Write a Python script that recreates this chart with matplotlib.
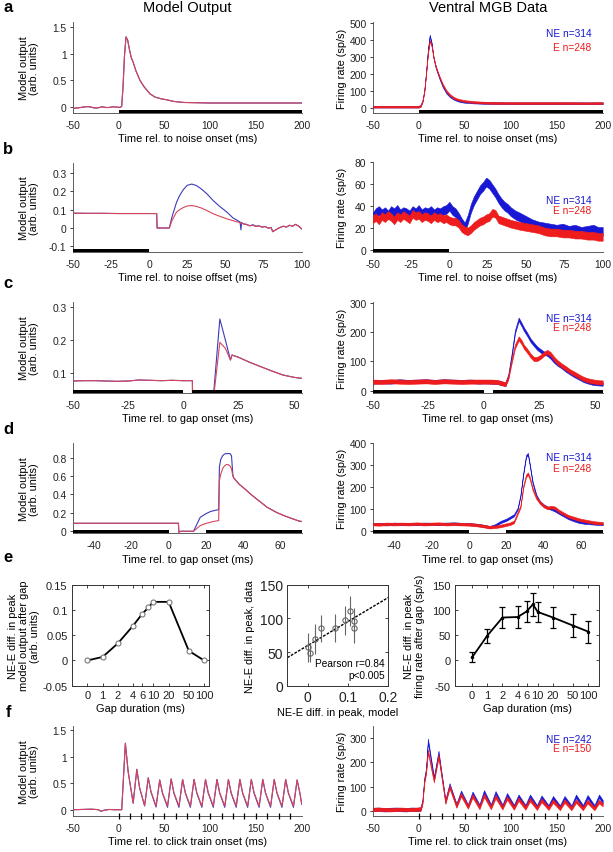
import numpy as np
import matplotlib
matplotlib.use("Agg")
import matplotlib.pyplot as plt
from matplotlib.transforms import blended_transform_factory
from matplotlib.patches import Rectangle
from matplotlib.ticker import NullLocator

plt.rcParams['font.family'] = ['Liberation Sans', 'DejaVu Sans']
plt.rcParams['axes.unicode_minus'] = False

# ------------------------------------------------------------------ data
# (a) noise onset – model
A_MT = [-50,-47,-44,-40,-36,-33,-30,-27,-24,-21,-18,-15,-12,-9,-6,-3,0,2,3.5,5,
        6.5,8.2,10,12,14,16,19,23.5,28,34.4,40,46,52.6,60,71,85,100,125,150,175,200]
A_M_NE = [-0.02,-0.015,-0.01,0.0,0.01,0.012,0.005,-0.01,-0.012,-0.005,0.01,0.0,-0.005,0.0,0.01,0.005,0.0,0.0,0.02,0.4,
          0.95,1.31,1.25,1.07,0.92,0.84,0.68,0.5,0.38,0.25,0.19,0.16,0.14,0.11,0.09,0.085,0.08,0.08,0.08,0.08,0.08]
A_M_E = [-0.02,-0.015,-0.01,0.0,0.01,0.012,0.005,-0.01,-0.012,-0.005,0.01,0.0,-0.005,0.0,0.01,0.005,0.0,0.0,0.02,0.4,
         0.95,1.31,1.25,1.07,0.92,0.84,0.68,0.5,0.38,0.25,0.19,0.16,0.14,0.11,0.09,0.085,0.08,0.08,0.08,0.08,0.08]
# (a) data
A_DT = [-50,-40,-30,-20,-10,0,2,4,6,8,10,12,14,16,18,20,23,26,30,34,38,42,46,50,60,70,80,100,120,140,160,180,200]
A_D_NE = [10,10,10,10,10,10,15,40,100,210,340,425,380,300,250,215,170,130,92,70,56,47,41,38,34,32,31,30,30,30,30,30,30]
A_D_E = [10,10,10,10,10,10,15,40,95,200,320,395,365,300,255,220,178,140,102,78,62,53,47,43,37,34,32,31,31,31,31,30,31]
A_D_HW = [5, 5]

# (b) noise offset – model
B_MT = [-50,-40,-30,-20,-10,0,5,5.3,13.3,15,18,20,22.5,25,28,31,34,38,42,46,
        51,55,59.6,60.2,60.6,62,64,66,68,70,72,74,76,78,80,81,83,85,88,90,92,94,96,98,100]
B_M_E = [0.081,0.080,0.080,0.079,0.079,0.079,0.079,0.0,0.0,0.04,0.087,0.10,0.112,0.12,0.123,0.118,0.11,0.095,0.078,0.065,
         0.05,0.04,0.029,0.027,0.026,0.022,0.018,0.012,0.015,0.008,0.012,0.005,0.008,0.0,0.002,-0.02,-0.01,0.0,0.01,0.005,
         0.015,0.01,0.02,0.01,-0.005]
B_M_NE = [0.081,0.080,0.080,0.079,0.079,0.079,0.079,0.0,0.0,0.06,0.14,0.177,0.21,0.233,0.24,0.232,0.215,0.186,0.15,0.12,
          0.087,0.055,0.033,-0.01,0.03,0.022,0.02,0.012,0.018,0.01,0.012,0.005,0.008,0.0,0.002,-0.02,-0.01,0.0,0.01,0.005,
          0.015,0.01,0.02,0.01,-0.005]
# (b) data
B_DT = [-50,-48,-46,-44,-42,-40,-38,-36,-34,-32,-30,-28,-26,-24,-22,-20,-18,-16,-14,-12,-10,-8,-6,-4,-2,0,
        2,4,6,8,10,12,14,16,18,20,22,24,26,28,30,32,34,36,38,40,
        43,46,50,54,58,62,66,70,74,78,82,86,90,94,97,100]
B_D_NE = [30,34,36,33,35,32,36,34,37,33,35,34,32,36,34,37,33,35,34,36,33,35,34,36,37,40,
          36,34,30,25,21,28,38,45,50,55,58,62,60,56,52,47,43,40,38,35,
          32,30,27,24,22,21,20,19,20,18,19,17,18,19,17,17]
B_D_E = [28,30,27,31,29,32,30,27,31,29,32,30,28,33,31,32,29,31,30,28,31,29,30,28,29,27,
         26,26,24,20,18,17,19,22,24,26,27,29,30,34,33,28,27,26,25,24,
         23,22,21,20,19,17,16,16,15,15,14,14,13,13,12,12]
B_D_HW = [4, 3.5]

# (c) gap onset, 4 ms gap – model
C_MT = [-50,-45,-40,-35,-30,-25,-20,-15,-10,-5,0,2,4.1,4.2,13.2,16.5,19,21.3,22,25,30,35,40,45,50,53.5]
C_M_E = [0.077,0.078,0.078,0.077,0.076,0.077,0.08,0.079,0.078,0.079,0.078,0.078,0.078,0.0,0.0,0.193,0.175,0.14,0.155,0.148,
         0.133,0.12,0.107,0.095,0.088,0.085]
C_M_NE = [0.077,0.078,0.078,0.077,0.076,0.077,0.08,0.079,0.078,0.079,0.078,0.078,0.078,0.0,0.0,0.263,0.2,0.14,0.155,0.148,
          0.133,0.12,0.107,0.095,0.088,0.085]
# (c) data
C_DT = [-50,-46,-42,-38,-34,-30,-26,-22,-18,-14,-10,-6,-2,0,3,6,9.7,11,12.5,14,
        15.7,17,18,19.5,21,22.5,24,25.5,27,28.5,30,31.5,33,35,37,39,41,43,45,47,49.5,51.5,53.5]
C_D_NE = [30,31,30,33,31,32,33,31,33,32,31,32,30,31,30,29,22,50,120,200,
          243,225,210,192,172,158,145,136,128,125,115,102,92,82,70,60,51,43,35,30,25,24,23]
C_D_E = [31,30,32,31,30,31,32,30,32,31,30,31,31,31,31,30,22,45,100,150,
         178,165,150,136,120,108,108,115,125,132,125,110,98,86,76,65,57,48,40,35,31,29,28]
C_D_HW = [6, 7]

# (d) gap onset, 20 ms gap – model
D_MT = [-51.5,-40,-30,-20,-10,0,5.3,5.5,6.5,13.4,17,20,22.4,25,26.9,27.3,28,29,30,31,
        32,33,33.8,34.5,35,38,41,44,48,53,58,62,66,70,71.5]
D_M_E = [0.087,0.087,0.087,0.087,0.087,0.087,0.087,-0.01,0.0,0.0,0.062,0.085,0.098,0.11,0.116,0.55,0.62,0.68,0.71,0.725,
         0.725,0.71,0.68,0.6,0.58,0.51,0.46,0.405,0.34,0.26,0.205,0.17,0.14,0.112,0.106]
D_M_NE = [0.087,0.087,0.087,0.087,0.087,0.087,0.087,-0.01,0.0,0.0,0.152,0.19,0.214,0.228,0.235,0.7,0.78,0.82,0.84,0.845,
          0.845,0.845,0.82,0.62,0.58,0.51,0.46,0.405,0.34,0.26,0.205,0.17,0.14,0.112,0.106]
# (d) data
D_DT = [-51.5,-48,-44,-40,-36,-32,-28,-24,-20,-16,-12,-8,-4,0,4,8,11,14,17,20,
        22,24,26,27.5,29,30.5,31.5,32.5,34,36,38,40,42,44,46,48,50.5,53,56,59,62,65,68,71.5]
D_D_NE = [30,31,29,32,30,31,30,32,31,30,32,33,31,30,27,22,16,25,40,50,
          60,70,100,160,260,340,350,300,220,160,130,115,105,100,92,82,70,58,48,40,36,34,32,30]
D_D_E = [30,29,31,30,31,30,32,30,31,32,30,31,30,29,26,21,16,18,22,28,
         32,40,80,110,200,250,260,240,190,150,128,112,104,108,104,90,78,66,58,50,45,40,36,34]
D_D_HW = [5, 6]

# (e) gap-duration summary
GAPS = [0, 1, 2, 4, 6, 8, 10, 20, 50, 100]
E_MODEL_DIFF = [0.0, 0.007, 0.034, 0.069, 0.092, 0.105, 0.116, 0.116, 0.019, 0.0]
E_DATA_DIFF = [6, 49, 85, 86, 97, 111, 96, 85, 69, 57]
E_DATA_ERR = [10, 14, 20, 21, 21, 22, 20, 21, 22, 22]
GAP_TICKS = [0, 1, 2, 4, 6, 10, 20, 50, 100]
GAP_TICKLABELS = ['0', '1', '2', '4', '6', '10', '20', '50', '100']
ZERO_GAP_POS = 0.5   # where gap 0 is drawn on the log axis

# (f) click train – model
CLICKS = [0, 12.5, 25, 37.5, 50, 62.5, 75, 87.5, 100, 112.5, 125, 137.5, 150, 162.5, 175, 187.5]
F_MT = [-50,-40,-30,-25,-22,-19,-16,-10,-5,0,3.5,
        7.5,10.5,16, 20,23,28.5, 32.5,35.5,41, 45,48,53.5, 57.5,60.5,66, 70,73,78.5, 82.5,85.5,91,
        95,98,103.5, 107.5,110.5,116, 120,123,128.5, 132.5,135.5,141, 145,148,153.5, 157.5,160.5,166,
        170,173,178.5, 182.5,185.5,191, 195,198,200]
F_M_E = [0,0.005,0.01,0.005,0.0,-0.03,-0.01,0.005,0.0,0.0,0.0,
         1.25,0.72,0.13, 0.76,0.42,0.08, 0.6,0.34,0.07, 0.56,0.32,0.07, 0.58,0.32,0.07, 0.57,0.32,0.07, 0.57,0.32,0.07,
         0.57,0.32,0.07, 0.57,0.32,0.07, 0.57,0.32,0.07, 0.57,0.32,0.07, 0.57,0.32,0.07, 0.57,0.32,0.07,
         0.57,0.32,0.07, 0.57,0.32,0.07, 0.56,0.32,0.12]
F_M_NE = [0,0.005,0.01,0.005,0.0,-0.03,-0.01,0.005,0.0,0.0,0.0,
          1.25,0.72,0.12, 0.76,0.41,0.07, 0.6,0.33,0.05, 0.56,0.31,0.045, 0.58,0.31,0.045, 0.57,0.31,0.045,
          0.57,0.31,0.045, 0.57,0.31,0.045, 0.57,0.31,0.045, 0.57,0.31,0.045, 0.57,0.31,0.045, 0.57,0.31,0.045,
          0.57,0.31,0.045, 0.57,0.31,0.045, 0.57,0.31,0.045, 0.56,0.31,0.1]
# (f) data
F_DT = [-50,-44,-38,-32,-26,-20,-14,-8,-2,2,4,6,8,
        10,16.5, 21.5,29, 33.5,41, 46,53.5, 58.5,66, 71,78.5, 83.5,91, 96,103.5, 108.5,116,
        121,128.5, 133.5,141, 146,153.5, 158.5,166, 171,178.5, 183.5,191, 196,200]
F_D_NE = [8,9,7,8,9,8,7,9,8,10,40,130,170,
          290,135, 240,42, 108,26, 78,22, 74,22, 80,22, 76,21, 68,20, 62,20,
          62,19, 58,19, 56,18, 56,18, 62,19, 60,19, 62,40]
F_D_E = [8,9,8,7,8,9,8,8,9,10,35,120,160,
         245,125, 225,38, 100,22, 68,18, 63,16, 65,16, 60,15, 55,14, 50,14,
         48,13, 45,13, 42,12, 42,12, 42,12, 40,12, 40,28]
F_D_HW = [7, 7]

# ------------------------------------------------------------------ style
W, H = 613, 853
fig = plt.figure(figsize=(W / 100, H / 100), dpi=100)

BLUE_M = '#3b3bb8'
RED_M = '#d9455a'
BLUE_D = '#1818d4'
RED_D = '#ee1c1c'
TICK_FS = 7.4
LAB_FS = 7.9


def add_ax(x0, y0, x1, y1):
    return fig.add_axes([x0 / W, 1 - y1 / H, (x1 - x0) / W, (y1 - y0) / H])


def ts_axes(rect, xlim, ylim, xticks, yticks, yticklabels, xlabel, ylabel, ylab_x,
            stim=(), clicks=None):
    ax = add_ax(*rect)
    ax.set_xlim(xlim)
    ax.set_ylim(ylim)
    for s in ['top', 'right']:
        ax.spines[s].set_visible(False)
    for s in ['left', 'bottom']:
        ax.spines[s].set_linewidth(0.6)
        ax.spines[s].set_color('#444444')
    ax.set_xticks(xticks, [str(v) for v in xticks])
    ax.set_yticks(yticks, yticklabels)
    ax.tick_params(axis='y', length=2.5, width=0.6, pad=2, labelsize=TICK_FS, colors='#222222')
    ax.tick_params(axis='x', length=0, pad=5, labelsize=TICK_FS, colors='#222222')
    ax.set_xlabel(xlabel, fontsize=LAB_FS, labelpad=2.5)
    ax.set_ylabel(ylabel, fontsize=LAB_FS, linespacing=1.05)
    ax.yaxis.set_label_coords(ylab_x, 0.5)
    tr = blended_transform_factory(ax.transData, ax.transAxes)
    hbar = 3.4 / (rect[3] - rect[1])
    for a, b in stim:
        ax.add_patch(Rectangle((a, 0), b - a, hbar, transform=tr, color='black',
                               clip_on=False, zorder=6, lw=0))
    if clicks is not None:
        ax.plot(clicks, [0] * len(clicks), transform=tr, ls='none', marker='|',
                ms=4, mew=0.9, color='black', clip_on=False, zorder=6)
    return ax


def model_lines(ax, t, ne, e):
    ax.plot(t, ne, color=BLUE_M, lw=0.8, zorder=3)
    ax.plot(t, e, color=RED_M, lw=0.8, zorder=4)


def data_bands(ax, t, ne, e, hw):
    ne = np.asarray(ne, float)
    e = np.asarray(e, float)
    ax.fill_between(t, ne - hw[0], ne + hw[0], color=BLUE_D, lw=0.4, edgecolor=BLUE_D, zorder=3)
    ax.fill_between(t, e - hw[1], e + hw[1], color=RED_D, lw=0.4, edgecolor=RED_D, zorder=4)


def legend_txt(ax, y1, y2, n_ne, n_e):
    ax.text(0.95, y1, 'NE n=%d' % n_ne, color=BLUE_D, ha='right', va='center',
            fontsize=7.3, transform=ax.transAxes)
    ax.text(0.95, y2, 'E n=%d' % n_e, color=RED_D, ha='right', va='center',
            fontsize=7.3, transform=ax.transAxes)


LX = (72.7, 301.7)
RX = (372.7, 602.7)
ML = 'Model output\n(arb. units)'
FR = 'Firing rate (sp/s)'

# ---- a
ax = ts_axes((LX[0], 23, LX[1], 114), (-50, 200), (-0.106, 1.587), [-50, 0, 50, 100, 150, 200],
             [0, 0.5, 1, 1.5], ['0', '0.5', '1', '1.5'], 'Time rel. to noise onset (ms)', ML, -0.147,
             stim=[(0, 200)])
model_lines(ax, A_MT, A_M_NE, A_M_E)
ax = ts_axes((RX[0], 23, RX[1], 114), (-50, 200), (-27, 504), [-50, 0, 50, 100, 150, 200],
             [0, 100, 200, 300, 400, 500], ['0', '100', '200', '300', '400', '500'],
             'Time rel. to noise onset (ms)', FR, -0.112, stim=[(0, 200)])
data_bands(ax, A_DT, A_D_NE, A_D_E, A_D_HW)
legend_txt(ax, 0.876, 0.73, 314, 248)

# ---- b
ax = ts_axes((LX[0], 164, LX[1], 253), (-50, 100), (-0.131, 0.355), [-50, -25, 0, 25, 50, 75, 100],
             [-0.1, 0, 0.1, 0.2, 0.3], ['-0.1', '0', '0.1', '0.2', '0.3'],
             'Time rel. to noise offset (ms)', ML, -0.147, stim=[(-50, 0)])
model_lines(ax, B_MT, B_M_NE, B_M_E)
ax = ts_axes((RX[0], 163.3, RX[1], 253), (-50, 100), (-1.8, 80), [-50, -25, 0, 25, 50, 75, 100],
             [0, 20, 40, 60, 80], ['0', '20', '40', '60', '80'],
             'Time rel. to noise offset (ms)', FR, -0.112, stim=[(-50, 0)])
data_bands(ax, B_DT, B_D_NE, B_D_E, B_D_HW)
legend_txt(ax, 0.576, 0.465, 314, 248)

# ---- c
ax = ts_axes((LX[0], 303, LX[1], 394), (-50, 53.5), (0.041, 0.314), [-50, -25, 0, 25, 50],
             [0.1, 0.2, 0.3], ['0.1', '0.2', '0.3'],
             'Time rel. to gap onset (ms)', ML, -0.147, stim=[(-50, 0), (4, 53.5)])
model_lines(ax, C_MT, C_M_NE, C_M_E)
ax = ts_axes((RX[0], 303, RX[1], 394), (-50, 53.5), (-7.8, 302), [-50, -25, 0, 25, 50],
             [0, 100, 200, 300], ['0', '100', '200', '300'],
             'Time rel. to gap onset (ms)', FR, -0.112, stim=[(-50, 0), (4, 53.5)])
data_bands(ax, C_DT, C_D_NE, C_D_E, C_D_HW)
legend_txt(ax, 0.824, 0.725, 314, 248)

# ---- d
ax = ts_axes((LX[0], 444, LX[1], 534.3), (-51.5, 71.5), (-0.022, 0.96), [-40, -20, 0, 20, 40, 60],
             [0, 0.2, 0.4, 0.6, 0.8], ['0', '0.2', '0.4', '0.6', '0.8'],
             'Time rel. to gap onset (ms)', ML, -0.147, stim=[(-51.5, 0), (20, 71.5)])
model_lines(ax, D_MT, D_M_NE, D_M_E)
ax = ts_axes((RX[0], 444, RX[1], 534.3), (-51.5, 71.5), (-11.9, 400), [-40, -20, 0, 20, 40, 60],
             [0, 100, 200, 300, 400], ['0', '100', '200', '300', '400'],
             'Time rel. to gap onset (ms)', FR, -0.112, stim=[(-51.5, 0), (20, 71.5)])
data_bands(ax, D_DT, D_D_NE, D_D_E, D_D_HW)
legend_txt(ax, 0.845, 0.723, 314, 248)

# ---- e


def box_axes(rect):
    ax = add_ax(*rect)
    for s in ax.spines.values():
        s.set_linewidth(0.7)
        s.set_color('#333333')
    ax.tick_params(direction='in', top=True, right=True, length=2.5, width=0.6,
                   labelsize=TICK_FS + 0.6, pad=3, colors='#222222')
    return ax


gpos = [ZERO_GAP_POS if g == 0 else g for g in GAPS]
gtick_pos = [ZERO_GAP_POS if g == 0 else g for g in GAP_TICKS]

ax = box_axes((71.7, 585.7, 209, 686.7))
ax.set_xscale('log')
ax.plot(gpos, E_MODEL_DIFF, color='black', lw=1.3, marker='o', ms=3.6, mfc='white',
        mec='#777777', mew=0.8)
ax.set_xlim(0.245, 125)
ax.set_ylim(-0.05, 0.15)
ax.set_xticks(gtick_pos, GAP_TICKLABELS)
ax.xaxis.set_minor_locator(NullLocator())
ax.set_yticks([-0.05, 0, 0.05, 0.1, 0.15], ['-0.05', '0', '0.05', '0.1', '0.15'])
ax.set_xlabel('Gap duration (ms)', fontsize=LAB_FS, labelpad=2)
ax.set_ylabel('NE-E diff. in peak\nmodel output after gap\n(arb. units)', fontsize=LAB_FS,
              linespacing=1.1)
ax.yaxis.set_label_coords(-0.231, 0.5)

ax = box_axes((287.3, 585.7, 388.3, 686.7))
mx = np.asarray(E_MODEL_DIFF[1:])
my = np.asarray(E_DATA_DIFF[1:])
ax.errorbar(mx, my, yerr=E_DATA_ERR[1:], fmt='o', ms=3.8, mfc='none', mec='#666666', mew=0.8,
            ecolor='#666666', elinewidth=0.8, capsize=0, zorder=3)
slope, icpt = np.polyfit(mx, my, 1)
xl = np.array([-0.05, 0.2])
ax.plot(xl, slope * xl + icpt, color='black', ls=(0, (2, 1)), lw=1.0, zorder=2)
ax.set_xlim(-0.05, 0.2)
ax.set_ylim(0, 150)
ax.set_xticks([0, 0.1, 0.2], ['0', '0.1', '0.2'])
ax.set_yticks([0, 50, 100, 150], ['0', '50', '100', '150'])
ax.tick_params(labelsize=10)
ax.set_xlabel('NE-E diff. in peak, model', fontsize=LAB_FS, labelpad=2)
ax.set_ylabel('NE-E diff. in peak, data', fontsize=LAB_FS)
ax.yaxis.set_label_coords(-0.32, 0.5)
ax.text(0.965, 0.225, 'Pearson r=0.84', ha='right', va='center', fontsize=7.3, transform=ax.transAxes)
ax.text(0.965, 0.105, 'p<0.005', ha='right', va='center', fontsize=7.3, transform=ax.transAxes)

ax = box_axes((455, 585.7, 599.3, 686.7))
ax.set_xscale('log')
ax.errorbar(gpos, E_DATA_DIFF, yerr=E_DATA_ERR, color='black', lw=1.3, marker='.', ms=3,
            capsize=2.0, elinewidth=0.9, capthick=0.9)
ax.set_xlim(0.23, 165)
ax.set_ylim(-50, 150)
ax.set_xticks(gtick_pos, GAP_TICKLABELS)
ax.xaxis.set_minor_locator(NullLocator())
ax.set_yticks([-50, 0, 50, 100, 150], ['-50', '0', '50', '100', '150'])
ax.set_xlabel('Gap duration (ms)', fontsize=LAB_FS, labelpad=2)
ax.set_ylabel('NE-E diff. in peak\nfiring rate after gap (sp/s)', fontsize=LAB_FS,
              linespacing=1.1)
ax.yaxis.set_label_coords(-0.208, 0.5)

# ---- f
ax = ts_axes((LX[0], 727, LX[1], 817), (-50, 200), (-0.118, 1.575), [-50, 0, 50, 100, 150, 200],
             [0, 0.5, 1, 1.5], ['0', '0.5', '1', '1.5'], 'Time rel. to click train onset (ms)', ML, -0.147,
             clicks=CLICKS)
model_lines(ax, F_MT, F_M_NE, F_M_E)
ax = ts_axes((RX[0], 727, RX[1], 817), (-50, 200), (-18.5, 348), [-50, 0, 50, 100, 150, 200],
             [0, 100, 200, 300], ['0', '100', '200', '300'],
             'Time rel. to click train onset (ms)', FR, -0.112, clicks=CLICKS)
data_bands(ax, F_DT, F_D_NE, F_D_E, F_D_HW)
legend_txt(ax, 0.853, 0.754, 242, 150)

# ---- titles & panel letters
fig.text(187 / W, 1 - 8 / H, 'Model Output', ha='center', va='center', fontsize=10.5)
fig.text(488 / W, 1 - 8 / H, 'Ventral MGB Data', ha='center', va='center', fontsize=10.5)
for letter, yy in [('a', 8), ('b', 150), ('c', 283), ('d', 430), ('e', 558), ('f', 713)]:
    fig.text(8 / W, 1 - yy / H, letter, ha='center', va='center', fontsize=12, fontweight='bold')

fig.savefig('out.png', dpi=100)
